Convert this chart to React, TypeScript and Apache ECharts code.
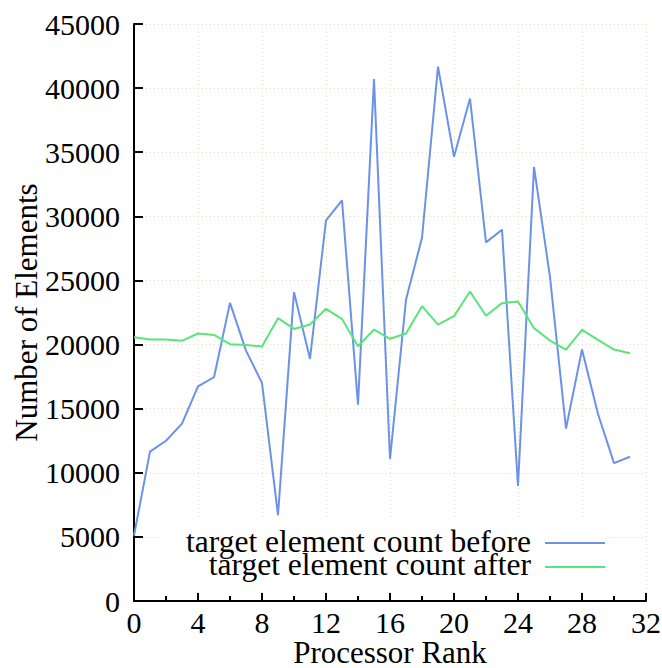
import React, { useEffect, useRef } from "react";
import * as echarts from "echarts";

// Processor ranks 0..31
const ranks: number[] = Array.from({ length: 32 }, (_, i) => i);

// Element counts per rank before load balancing
const countBefore: number[] = [
  5100, 11650, 12500, 13830, 16740, 17450, 23250, 19530, 17000, 6690,
  24090, 18880, 29690, 31250, 15310, 40700, 11070, 23490, 28330, 41670,
  34640, 39190, 27970, 28960, 8980, 33850, 25260, 13440, 19610, 14580,
  10750, 11250,
];

// Element counts per rank after load balancing
const countAfter: number[] = [
  20570, 20390, 20390, 20290, 20860, 20750, 20030, 19970, 19840, 22060,
  21220, 21560, 22790, 22000, 19870, 21170, 20450, 20860, 22990, 21560,
  22210, 24140, 22250, 23230, 23360, 21280, 20310, 19610, 21150, 20370,
  19610, 19320,
];

const seriesNames: string[] = [
  "target element count before",
  "target element count after",
];

const FONT = '"Liberation Serif", "Times New Roman", serif';
const BLUE = "#6c92e8";
const GREEN = "#5ae47a";

export default function App() {
  const ref = useRef<HTMLDivElement>(null);

  useEffect(() => {
    if (!ref.current) return;
    const chart = echarts.init(ref.current, undefined, { renderer: "svg" });

    const gridLine = {
      show: true,
      lineStyle: { color: "#dcdccb", width: 1, type: [1, 3] as number[] },
    };

    // Legend: right-aligned label with a line sample to its right
    const legendText = (label: string, cy: number) => ({
      type: "text",
      z: 20,
      silent: true,
      x: 531,
      y: cy,
      style: {
        text: label,
        fontFamily: FONT,
        fontSize: 31.5,
        lineHeight: 22,
        fill: "#000000",
        align: "right",
        verticalAlign: "middle",
      },
    });
    const legendLine = (color: string, cy: number) => ({
      type: "line",
      z: 20,
      silent: true,
      shape: { x1: 545, y1: cy, x2: 605, y2: cy },
      style: { stroke: color, lineWidth: 2 },
    });

    chart.setOption({
      animation: false,
      backgroundColor: "#ffffff",
      textStyle: { fontFamily: FONT },
      grid: {
        left: 134,
        right: 16,
        top: 24,
        bottom: 67,
        containLabel: false,
        outerBoundsMode: "none",
      },
      graphic: [
        {
          type: "rect",
          z: 1,
          silent: true,
          shape: { x: 160, y: 517, width: 450, height: 73 },
          style: { fill: "#ffffff" },
        },
        legendText(seriesNames[0], 541),
        legendLine(BLUE, 543),
        legendText(seriesNames[1], 564),
        legendLine(GREEN, 567),
      ],
      xAxis: {
        type: "value",
        min: 0,
        max: 32,
        interval: 4,
        name: "Processor Rank",
        nameLocation: "middle",
        nameGap: 38,
        nameMoveOverlap: false,
        nameTextStyle: { fontFamily: FONT, fontSize: 31, lineHeight: 26, color: "#000" },
        axisLine: { show: true, lineStyle: { color: "#000", width: 2 } },
        axisTick: { show: true, inside: true, length: 8, lineStyle: { color: "#000", width: 2 } },
        minorTick: { show: true, splitNumber: 2, length: 5, lineStyle: { color: "#000", width: 2 } },
        axisLabel: { fontFamily: FONT, fontSize: 30, lineHeight: 26, color: "#000", margin: 8 },
        splitLine: gridLine,
      },
      yAxis: {
        type: "value",
        min: 0,
        max: 45000,
        interval: 5000,
        name: "Number of Elements",
        nameLocation: "middle",
        nameGap: 92,
        nameMoveOverlap: false,
        nameTextStyle: { fontFamily: FONT, fontSize: 31, color: "#000" },
        axisLine: { show: true, lineStyle: { color: "#000", width: 2 } },
        axisTick: { show: true, inside: true, length: 9, lineStyle: { color: "#000", width: 2 } },
        axisLabel: {
          fontFamily: FONT,
          fontSize: 30,
          color: "#000",
          margin: 14,
          formatter: (v: number) => String(v),
        },
        splitLine: gridLine,
      },
      series: [
        {
          name: seriesNames[0],
          type: "line",
          data: ranks.map((r, i) => [r, countBefore[i]]),
          symbol: "none",
          lineStyle: { color: BLUE, width: 2 },
          itemStyle: { color: BLUE },
          z: 3,
        },
        {
          name: seriesNames[1],
          type: "line",
          data: ranks.map((r, i) => [r, countAfter[i]]),
          symbol: "none",
          lineStyle: { color: GREEN, width: 2 },
          itemStyle: { color: GREEN },
          z: 3,
        },
      ],
    });

    return () => chart.dispose();
  }, []);

  return (
    <div
      ref={ref}
      style={{ position: "fixed", left: 0, top: 0, width: 662, height: 668 }}
    />
  );
}
